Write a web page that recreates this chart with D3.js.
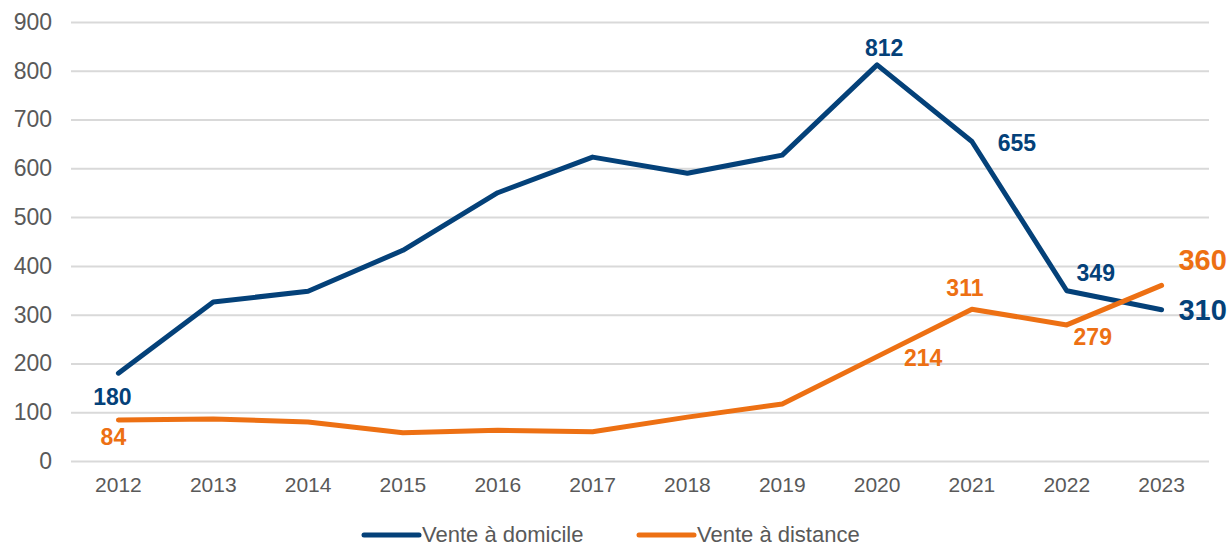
<!DOCTYPE html>
<html>
<head>
<meta charset="utf-8">
<script src="https://cdn.jsdelivr.net/npm/d3@7"></script>
<style>
  body { margin: 0; background: #fff; }
  svg { font-family: "Liberation Sans", Arial, sans-serif; }
</style>
</head>
<body>
<div id="wrapper"></div>
<script>
/*global d3*/

const years = ["2012","2013","2014","2015","2016","2017","2018","2019","2020","2021","2022","2023"]
const domicile = [180, 326, 348, 432, 550, 623, 590, 627, 812, 655, 349, 310]
const distance = [84, 86, 80, 58, 63, 60, 90, 117, 214, 311, 279, 360]
const yTicks = [0, 100, 200, 300, 400, 500, 600, 700, 800, 900]

// which points carry a label, and where it sits (dx, dy, size)
const domicileLabels = [
    { i: 0, dx: -6, dy: 24, size: 23 },
    { i: 8, dx: 7, dy: -17, size: 23 },
    { i: 9, dx: 45, dy: 1, size: 23 },
    { i: 10, dx: 29, dy: -18, size: 23 },
    { i: 11, dx: 41, dy: 0, size: 29 },
]
const distanceLabels = [
    { i: 0, dx: -5, dy: 17, size: 23 },
    { i: 8, dx: 46, dy: 1, size: 23 },
    { i: 9, dx: -7, dy: -21, size: 23 },
    { i: 10, dx: 26, dy: 12, size: 23 },
    { i: 11, dx: 41, dy: -25, size: 29 },
]

const blue = "#044179"
const orange = "#ed7013"

function drawChart() {
    let dims = {
        width: 1232,
        height: 546,
        margin: { top: 22, right: 23, bottom: 85, left: 71 }
    }
    dims.boundedWidth = dims.width - dims.margin.left - dims.margin.right
    dims.boundedHeight = dims.height - dims.margin.top - dims.margin.bottom

    const wrapper = d3.select("#wrapper")
        .append("svg")
        .attr("width", dims.width)
        .attr("height", dims.height)

    const bounds = wrapper.append("g")
        .attr("transform", `translate(${dims.margin.left},${dims.margin.top})`)

    const xScale = d3.scaleBand()
        .domain(years)
        .range([0, dims.boundedWidth])

    const yScale = d3.scaleLinear()
        .domain([0, 900])
        .range([dims.boundedHeight, 0])

    const xPos = i => xScale(years[i]) + xScale.bandwidth() / 2

    // gridlines
    const yAxisGenerator = d3.axisLeft(yScale)
        .tickValues(yTicks)
        .tickSize(-dims.boundedWidth)
        .tickPadding(19)

    const yAxis = bounds.append("g").call(yAxisGenerator)
    yAxis.select(".domain").remove()
    yAxis.selectAll(".tick line")
        .attr("stroke", "#d9d9d9")
        .attr("stroke-width", 2)
    yAxis.selectAll(".tick text")
        .attr("fill", "#595959")
        .style("font-size", "23px")
        .style("font-family", "Liberation Sans, Arial, sans-serif")

    const xAxisGenerator = d3.axisBottom(xScale)
        .tickSize(0)
        .tickPadding(16)

    const xAxis = bounds.append("g")
        .attr("transform", `translate(0,${dims.boundedHeight})`)
        .call(xAxisGenerator)
    xAxis.select(".domain").remove()
    xAxis.selectAll(".tick text")
        .attr("fill", "#595959")
        .style("font-size", "21px")
        .style("font-family", "Liberation Sans, Arial, sans-serif")

    const lineGenerator = d3.line()
        .x((d, i) => xPos(i))
        .y(d => yScale(d))

    const series = [
        { values: domicile, color: blue, labels: domicileLabels },
        { values: distance, color: orange, labels: distanceLabels },
    ]

    series.forEach(s => {
        bounds.append("path")
            .attr("d", lineGenerator(s.values))
            .attr("fill", "none")
            .attr("stroke", s.color)
            .attr("stroke-width", 5)
            .attr("stroke-linejoin", "round")
            .attr("stroke-linecap", "round")

        bounds.selectAll(null)
            .data(s.labels)
            .join("text")
            .attr("x", d => xPos(d.i) + d.dx)
            .attr("y", d => yScale(s.values[d.i]) + d.dy)
            .attr("text-anchor", "middle")
            .attr("dominant-baseline", "central")
            .attr("fill", s.color)
            .style("font-weight", "bold")
            .style("font-size", d => d.size + "px")
            .text(d => s.values[d.i])
    })

    // legend
    const legendItems = [
        { name: "Vente à domicile", color: blue, x: 364 },
        { name: "Vente à distance", color: orange, x: 639 },
    ]
    const legend = wrapper.append("g")
        .attr("transform", "translate(0,535)")
    const item = legend.selectAll("g")
        .data(legendItems)
        .join("g")
        .attr("transform", d => `translate(${d.x},0)`)
    item.append("line")
        .attr("x1", 0).attr("x2", 55)
        .attr("stroke", d => d.color)
        .attr("stroke-width", 5)
        .attr("stroke-linecap", "round")
    item.append("text")
        .attr("x", 58)
        .attr("y", -1)
        .attr("dominant-baseline", "central")
        .attr("fill", "#595959")
        .style("font-size", "22px")
        .text(d => d.name)
}

drawChart()
</script>
</body>
</html>
